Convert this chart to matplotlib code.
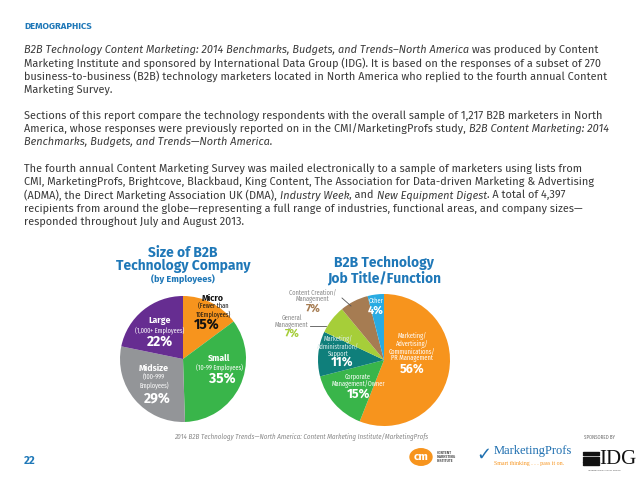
import matplotlib
matplotlib.use('Agg')
import matplotlib.pyplot as plt
from matplotlib import font_manager
from matplotlib.patches import Circle, Rectangle

W, H = 638, 479

# --- data -----------------------------------------------------------------
size_names = ['Micro', 'Small', 'Midsize', 'Large']
size_subs = ['(Fewer than\n10Employees)', '(10-99 Employees)', '(100-999\nEmployees)', '(1,000+ Employees)']
size_pct = [15, 35, 29, 22]
size_colors = ['#F7941D', '#39B54A', '#939598', '#662D91']

job_names = ['Marketing/\nAdvertising/\nCommunications/\nPR Management', 'Corporate\nManagement/Owner',
             'Marketing/\nAdministration/\nSupport', 'General\nManagement', 'Content Creation/\nManagement', 'Other']
job_pct = [56, 15, 11, 7, 7, 4]
job_colors = ['#F7941D', '#39B54A', '#0F7F7B', '#A6CE39', '#A67C52', '#29ABE2']

# paragraph lines as runs of (text, italic?)
para_lines = [
  [('B2B Technology Content Marketing: 2014 Benchmarks, Budgets, and Trends\u2013North America', True), (' was produced by Content', False)],
  [('Marketing Institute and sponsored by International Data Group (IDG). It is based on the responses of a subset of 270', False)],
  [('business-to-business (B2B) technology marketers located in North America who replied to the fourth annual Content', False)],
  [('Marketing Survey.', False)],
  None,
  [('Sections of this report compare the technology respondents with the overall sample of 1,217 B2B marketers in North', False)],
  [('America, whose responses were previously reported on in the CMI/MarketingProfs study, ', False), ('B2B Content Marketing: 2014', True)],
  [('Benchmarks, Budgets, and Trends\u2014North America.', True)],
  None,
  [('The fourth annual Content Marketing Survey was mailed electronically to a sample of marketers using lists from', False)],
  [('CMI, MarketingProfs, Brightcove, Blackbaud, King Content, The Association for Data-driven Marketing & Advertising', False)],
  [('(ADMA), the Direct Marketing Association UK (DMA), ', False), ('Industry Week', True), (', and ', False),
   ('New Equipment Digest', True), ('. A total of 4,397', False)],
  [('recipients from around the globe\u2014representing a full range of industries, functional areas, and company sizes\u2014', False)],
  [('responded throughout July and August 2013.', False)],
]

# --- fonts -----------------------------------------------------------------
installed = {f.name for f in font_manager.fontManager.ttflist}


def pick(*names):
  for n in names:
    if n in installed:
      return n
  return 'DejaVu Sans'


BODY = pick('Fira Sans', 'Open Sans', 'Noto Sans')
NARROW = pick('Fira Sans Condensed', 'Roboto Condensed', 'Liberation Sans Narrow', 'Noto Sans')
HEAD = pick('Fira Sans', 'Open Sans')
SERIF = pick('Liberation Serif', 'DejaVu Serif')
BLUE = '#1F78B8'
TXT = '#3A3A3A'

fig = plt.figure(figsize=(W / 100, H / 100), dpi=100)
fig.patch.set_facecolor('white')
renderer = fig.canvas.get_renderer()


def fx(x):
  return x / W


def fy(y):
  return 1 - y / H


def txt(x, y, s, **kw):
  kw.setdefault('ha', 'center')
  kw.setdefault('va', 'center')
  return fig.text(fx(x), fy(y), s, **kw)


def run_width(s, **kw):
  # measure with a bar so trailing spaces count
  t1 = fig.text(0, 0, s + '|', **kw)
  t2 = fig.text(0, 0, '|', **kw)
  w = t1.get_window_extent(renderer).width - t2.get_window_extent(renderer).width
  t1.remove()
  t2.remove()
  return w


def fit_size(s, target, **kw):
  return 10 * target / run_width(s, size=10, **kw)


# header
txt(24, 26, 'DEMOGRAPHICS', ha='left', family=HEAD, weight='bold', size=6.8, color=BLUE)

body_size = fit_size(para_lines[10][0][0], 566, family=BODY)
y = 50
for line in para_lines:
  if line is not None:
    x = 24
    for s, it in line:
      kw = dict(family=BODY, size=body_size, color=TXT, style='italic' if it else 'normal')
      txt(x, y, s, ha='left', **kw)
      x += run_width(s, **kw)
  y += 13.2

# --- pies ------------------------------------------------------------------
def pie_axes(cx, cy, r):
  return fig.add_axes([fx(cx - r), fy(cy + r), 2 * r / W, 2 * r / H])


ax1 = pie_axes(183, 359, 63)
ax1.pie(size_pct, colors=size_colors, startangle=90, counterclock=False, radius=1,
        wedgeprops=dict(linewidth=0))

ax2 = pie_axes(384, 360, 66)
ax2.pie(job_pct, colors=job_colors, startangle=90, counterclock=False, radius=1,
        wedgeprops=dict(linewidth=0))
for ax in (ax1, ax2):
  ax.set_xlim(-1, 1)
  ax.set_ylim(-1, 1)
  ax.axis('off')

# titles
title_size = fit_size('Technology Company', 135, family=HEAD, weight='bold')
txt(183, 253, 'Size of B2B', family=HEAD, weight='bold', size=title_size, color=BLUE)
txt(183, 266, 'Technology Company', family=HEAD, weight='bold', size=title_size, color=BLUE)
txt(183, 279, '(by Employees)', family=HEAD, weight='bold', size=title_size * 0.66, color=BLUE)
txt(384, 263, 'B2B Technology', family=HEAD, weight='bold', size=title_size, color=BLUE)
txt(384, 278, 'Job Title/Function', family=HEAD, weight='bold', size=title_size, color=BLUE)

# left pie labels: (name xy, sub xy, pct xy, colour)
size_pos = [((213, 298.5), (213, 310), (207, 325), '#111111'),
            ((219, 358), (219, 367), (222, 379), 'white'),
            ((154, 368), (154, 381), (157, 398), 'white'),
            ((160, 321), (160, 330), (160, 342), 'white')]
for name, sub, pct, (pn, ps, pp, c) in zip(size_names, size_subs, size_pct, size_pos):
  txt(*pn, name, family=HEAD, weight='bold', size=6.3, color=c)
  txt(*ps, sub, family=NARROW, size=4.5, color=c, linespacing=1.0)
  txt(*pp, f'{pct}%', family=HEAD, weight='bold', size=10, color=c)

# right pie labels
job_pos = [((412, 347), (412, 369), 'white', 'white'),
           ((358, 380), (358, 394), 'white', 'white'),
           ((338, 346), (342, 362), '#DDEEEE', 'white'),
           ((292, 322), (292, 334), '#888888', '#A6CE39'),
           ((313, 296), (313, 309), '#888888', '#A67C52'),
           ((376, 301), (376, 311), 'white', 'white')]
for name, pct, (pn, pp, cn, cp) in zip(job_names, job_pct, job_pos):
  txt(*pn, name, family=NARROW, size=4.6, color=cn, linespacing=1.0)
  txt(*pp, f'{pct}%', family=HEAD, weight='bold', size=9 if pct > 7 else 8, color=cp)

# leader lines
fig.add_artist(plt.Line2D([fx(310), fx(326)], [fy(326), fy(326)], color='#555555', lw=0.6))
fig.add_artist(plt.Line2D([fx(342), fx(351)], [fy(298), fy(306)], color='#555555', lw=0.6))

# --- footer ----------------------------------------------------------------
foot = '2014 B2B Technology Trends\u2014North America: Content Marketing Institute/MarketingProfs'
txt(301, 437, foot, family=NARROW, style='italic', size=fit_size(foot, 255, family=NARROW, style='italic'),
    color='#888888')
txt(24, 461, '22', ha='left', family=HEAD, weight='bold', size=8, color=BLUE)

# logos (simple stand-ins)
fig.add_artist(Circle((fx(421), fy(457)), 11 / W, transform=fig.transFigure, color='#F7941D'))
txt(421, 457, 'cm', family=HEAD, weight='bold', size=8, color='white')
txt(437, 457, 'CONTENT\nMARKETING\nINSTITUTE', ha='left', family=HEAD, weight='bold', size=2.6,
    color='#555555', linespacing=1.1)
txt(484, 455, '\u2713', family='DejaVu Sans', weight='bold', size=13, color='#1E6FB0')
txt(494, 451, 'MarketingProfs', ha='left', family=SERIF, size=9, color='#1E6FB0')
txt(494, 464, 'Smart thinking . . . pass it on.', ha='left', family=SERIF, size=4.2,
    color='#F7941D')
txt(600, 437, 'SPONSORED BY', family=HEAD, size=3.2, color='#666666')
for k in range(6):
  fig.add_artist(Rectangle((fx(583), fy(453 + k * 2.4)), 16 / W, 1.3 / H,
                           transform=fig.transFigure, color='#111111'))
txt(618, 459, 'IDG', family=SERIF, size=15, color='#111111')
txt(604, 470, 'INTERNATIONAL DATA GROUP', family=HEAD, size=1.8, color='#555555')

fig.savefig('out.png', dpi=100)
